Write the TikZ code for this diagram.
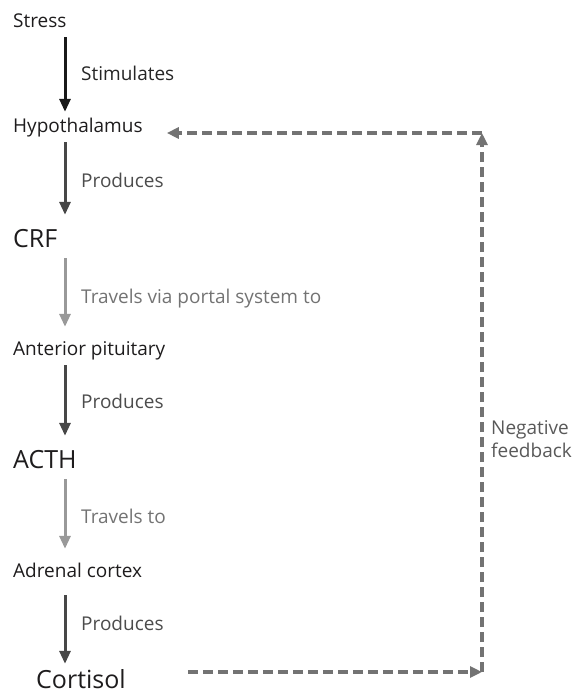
\documentclass[tikz,border=0pt]{standalone}
\usepackage{fontspec}
\setmainfont{Open Sans}
\usetikzlibrary{arrows.meta,positioning,calc}

\definecolor{ink}{HTML}{1E1C1D}

\begin{document}
\begin{tikzpicture}[
    x=1pt, y=-1pt,
    stage/.style={anchor=base west, inner xsep=3pt, inner ysep=6pt, text=ink,
                  font=\fontsize{19}{23}\selectfont, text height=14pt, text depth=4pt},
    hormone/.style={stage, font=\fontsize{25}{30}\selectfont, text height=18pt, text depth=5pt},
    action/.style={anchor=base west, inner sep=0pt, font=\fontsize{19}{23}\selectfont},
    arrow/.style={-{Triangle[length=13pt, width=11pt]}, line width=3pt, shorten >=8pt},
    fb/.style={-{Triangle[length=12pt, width=11pt]}, color=black!55, line width=3.2pt,
               dash pattern=on 10pt off 5pt}
  ]
  \useasboundingbox (0,0) rectangle (579,694);

  \node[stage] (stress) at (10,27) {Stress};
  \node[stage] (hypo) at (10,132) {Hypothalamus};
  \node[hormone] (crf) at (10,247) {CRF};
  \node[stage] (ant) at (10,355) {Anterior pituitary};
  \node[hormone] (acth) at (10,468) {ACTH};
  \node[stage] (adr) at (10,577) {Adrenal cortex};
  \node[hormone] (cort) at (33,688) {Cortisol};

  \node[action, text=black!85] (stim) at (81,80) {Stimulates};
  \node[action, text=black!70] (prod1) at (81,187) {Produces};
  \node[action, text=black!55] (trav1) at (81,303) {Travels via portal system to};
  \node[action, text=black!70] (prod2) at (81,408) {Produces};
  \node[action, text=black!55] (trav2) at (81,523) {Travels to};
  \node[action, text=black!70] (prod3) at (81,630) {Produces};
  \node[action, text=black!65, align=left] (neg) at (491,457) {Negative\\feedback};

  \coordinate (col) at (65,0);
  \coordinate (fbbot) at (482,672);
  \coordinate (fbtop) at (482,133);

  \draw[arrow, color=black!90, shorten >=0pt] (stress.south -| col) -- (hypo.north -| col);
  \draw[arrow, color=black!72] (hypo.south -| col) -- (crf.north -| col);
  \draw[arrow, color=black!40] (crf.south -| col) -- (ant.north -| col);
  \draw[arrow, color=black!72] (ant.south -| col) -- (acth.north -| col);
  \draw[arrow, color=black!40] (acth.south -| col) -- (adr.north -| col);
  \draw[arrow, color=black!72, shorten >=0pt, shorten <=8pt] (adr.south -| col) -- (cort.north -| col);

  % negative feedback loop
  \draw[fb] ($(cort.east |- fbbot)+(59,0)$) -- (fbbot);
  \draw[fb] (fbbot) -- (fbtop);
  \draw[fb, shorten >=21pt] (fbtop) -- (hypo.east |- fbtop);
\end{tikzpicture}
\end{document}
